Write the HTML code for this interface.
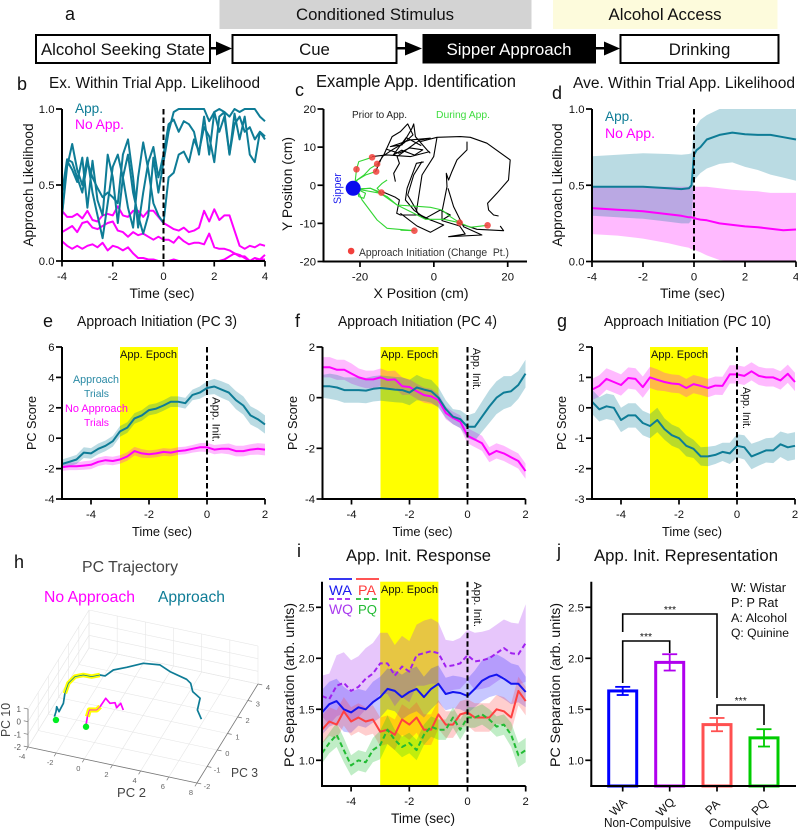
<!DOCTYPE html>
<html lang="en">
<head>
<meta charset="utf-8">
<title>Approach likelihood figure</title>
<style>
html,body{margin:0;padding:0;background:#fff;}
svg{display:block;font-family:"Liberation Sans",Arial,sans-serif;}
text{fill:#111;}
.letter{font-size:18px;}
</style>
</head>
<body>
<svg id="fig" xmlns="http://www.w3.org/2000/svg" width="798" height="830" viewBox="0 0 798 830">
<rect width="798" height="830" fill="#fff"/>

<g>
  <rect x="219.5" y="0" width="312" height="29" fill="#d3d3d3"/>
  <rect x="553" y="0" width="224.5" height="29" fill="#fdfbdc"/>
  <text x="375" y="20" text-anchor="middle" font-size="16.7" textLength="158" lengthAdjust="spacingAndGlyphs">Conditioned Stimulus</text>
  <text x="665" y="20" text-anchor="middle" font-size="16.7" textLength="113" lengthAdjust="spacingAndGlyphs">Alcohol Access</text>
  <rect x="36" y="35" width="174" height="28" fill="#fff" stroke="#000" stroke-width="2"/>
  <text x="123" y="55" text-anchor="middle" font-size="16.8" textLength="164" lengthAdjust="spacingAndGlyphs">Alcohol Seeking State</text>
  <rect x="232.5" y="35" width="164" height="28" fill="#fff" stroke="#000" stroke-width="2"/>
  <text x="314.5" y="55" text-anchor="middle" font-size="16.8">Cue</text>
  <rect x="422.5" y="34" width="173.5" height="29.5" fill="#000"/>
  <text x="509" y="55" text-anchor="middle" font-size="16.8" textLength="125" lengthAdjust="spacingAndGlyphs" style="fill:#fff">Sipper Approach</text>
  <rect x="620.5" y="35" width="158" height="28" fill="#fff" stroke="#000" stroke-width="2"/>
  <text x="699.5" y="55" text-anchor="middle" font-size="16.8">Drinking</text>
  <g fill="#000">
    <rect x="210" y="47" width="8" height="2.5"/><polygon points="216,41.5 232,48.5 216,55.5"/>
    <rect x="396" y="47" width="10" height="2.5"/><polygon points="405,41.5 422,48.5 405,55.5"/>
    <rect x="596" y="47" width="9" height="2.5"/><polygon points="604,41.5 620,48.5 604,55.5"/>
  </g>
</g>

<g>
  <text class="letter" x="65" y="20">a</text>
  <text class="letter" x="17" y="90">b</text>
  <text class="letter" x="295" y="96">c</text>
  <text class="letter" x="552" y="99">d</text>
  <text class="letter" x="43" y="327">e</text>
  <text class="letter" x="295" y="327">f</text>
  <text class="letter" x="557" y="327">g</text>
  <text class="letter" x="14" y="568">h</text>
  <text class="letter" x="297" y="557">i</text>
  <text class="letter" x="557" y="557">j</text>
</g>

<g id="plots"></g>

<g>
  <text x="49" y="88" font-size="15.25" textLength="211" lengthAdjust="spacingAndGlyphs">Ex. Within Trial App. Likelihood</text>
  <text x="316" y="87" font-size="17.2" textLength="200" lengthAdjust="spacingAndGlyphs">Example App. Identification</text>
  <text x="573" y="88" font-size="15.5" textLength="222" lengthAdjust="spacingAndGlyphs">Ave. Within Trial App. Likelihood</text>
  <text x="77" y="326" font-size="14.6" textLength="160" lengthAdjust="spacingAndGlyphs">Approach Initiation (PC 3)</text>
  <text x="338" y="326" font-size="14.6" textLength="159" lengthAdjust="spacingAndGlyphs">Approach Initiation (PC 4)</text>
  <text x="604" y="326" font-size="14.6" textLength="167" lengthAdjust="spacingAndGlyphs">Approach Initiation (PC 10)</text>
  <text x="82" y="572" font-size="15.7" textLength="96" lengthAdjust="spacingAndGlyphs" style="fill:#444">PC Trajectory</text>
  <text x="346" y="561" font-size="16.5" textLength="145" lengthAdjust="spacingAndGlyphs">App. Init. Response</text>
  <text x="594" y="561" font-size="16.6" textLength="184" lengthAdjust="spacingAndGlyphs">App. Init. Representation</text>
</g>

<g>
  <text font-size="13.6" transform="translate(33,185) rotate(-90)" text-anchor="middle" textLength="123" lengthAdjust="spacingAndGlyphs">Approach Likelihood</text>
  <text font-size="13.8" x="162" y="298" text-anchor="middle" textLength="65" lengthAdjust="spacingAndGlyphs">Time (sec)</text>
  <text font-size="13.8" transform="translate(292,184) rotate(-90)" text-anchor="middle" textLength="94" lengthAdjust="spacingAndGlyphs">Y Position (cm)</text>
  <text font-size="14" x="421" y="298" text-anchor="middle" textLength="95" lengthAdjust="spacingAndGlyphs">X Position (cm)</text>
  <text font-size="13.6" transform="translate(562,185) rotate(-90)" text-anchor="middle" textLength="123" lengthAdjust="spacingAndGlyphs">Approach Likelihood</text>
  <text font-size="13.8" x="692.5" y="298" text-anchor="middle" textLength="65" lengthAdjust="spacingAndGlyphs">Time (sec)</text>
  <text font-size="12.6" transform="translate(36,423) rotate(-90)" text-anchor="middle" textLength="54" lengthAdjust="spacingAndGlyphs">PC Score</text>
  <text font-size="12.7" x="162" y="536" text-anchor="middle" textLength="60" lengthAdjust="spacingAndGlyphs">Time (sec)</text>
  <text font-size="12.6" transform="translate(297,423) rotate(-90)" text-anchor="middle" textLength="54" lengthAdjust="spacingAndGlyphs">PC Score</text>
  <text font-size="12.7" x="422.5" y="536" text-anchor="middle" textLength="60" lengthAdjust="spacingAndGlyphs">Time (sec)</text>
  <text font-size="12.6" transform="translate(566,423) rotate(-90)" text-anchor="middle" textLength="54" lengthAdjust="spacingAndGlyphs">PC Score</text>
  <text font-size="12.7" x="692" y="536" text-anchor="middle" textLength="60" lengthAdjust="spacingAndGlyphs">Time (sec)</text>
  <text font-size="14.2" transform="translate(294,685) rotate(-90)" text-anchor="middle" textLength="164" lengthAdjust="spacingAndGlyphs">PC Separation (arb. units)</text>
  <text font-size="13.6" x="423" y="823" text-anchor="middle" textLength="64" lengthAdjust="spacingAndGlyphs">Time (sec)</text>
  <text font-size="14.2" transform="translate(560,685) rotate(-90)" text-anchor="middle" textLength="164" lengthAdjust="spacingAndGlyphs">PC Separation (arb. units)</text>
  <text font-size="13" transform="translate(10,720) rotate(-90)" text-anchor="middle" style="fill:#444" textLength="34" lengthAdjust="spacingAndGlyphs">PC 10</text>
  <text font-size="13" x="117" y="797" style="fill:#444" textLength="29" lengthAdjust="spacingAndGlyphs">PC 2</text>
  <text font-size="13" x="231" y="777" style="fill:#444" textLength="27" lengthAdjust="spacingAndGlyphs">PC 3</text>
</g>

<g id="notes">
  <text x="75" y="113" font-size="13.6" style="fill:#0e7c96" textLength="28" lengthAdjust="spacingAndGlyphs">App.</text>
  <text x="75" y="129" font-size="13.6" style="fill:#ff00ff" textLength="49" lengthAdjust="spacingAndGlyphs">No App.</text>
  <text x="605" y="121" font-size="13.6" style="fill:#0e7c96" textLength="28" lengthAdjust="spacingAndGlyphs">App.</text>
  <text x="605" y="138" font-size="13.6" style="fill:#ff00ff" textLength="50" lengthAdjust="spacingAndGlyphs">No App.</text>
  <text x="352" y="118" font-size="9.9" style="fill:#222" textLength="55" lengthAdjust="spacingAndGlyphs">Prior to App.</text>
  <text x="436" y="118" font-size="10.2" style="fill:#3fdc3f" textLength="54" lengthAdjust="spacingAndGlyphs">During App.</text>
  <text transform="translate(341,204) rotate(-90)" font-size="10.7" style="fill:#1a1aee" textLength="31" lengthAdjust="spacingAndGlyphs">Sipper</text>
  <text x="359" y="256" font-size="10.7" style="fill:#333" textLength="150" lengthAdjust="spacingAndGlyphs">Approach Initiation (Change&#160; Pt.)</text>
  <text x="73" y="383" font-size="10.8" style="fill:#2a8aa5" textLength="46" lengthAdjust="spacingAndGlyphs">Approach</text>
  <text x="84" y="397" font-size="10.4" style="fill:#2a8aa5" textLength="25" lengthAdjust="spacingAndGlyphs">Trials</text>
  <text x="65" y="412" font-size="10.8" style="fill:#ff00ff" textLength="63" lengthAdjust="spacingAndGlyphs">No Approach</text>
  <text x="84" y="426" font-size="10.4" style="fill:#ff00ff" textLength="25" lengthAdjust="spacingAndGlyphs">Trials</text>
  <text font-size="11" x="120" y="358" textLength="57" lengthAdjust="spacingAndGlyphs">App. Epoch</text>
  <text font-size="11" x="381" y="358" textLength="57" lengthAdjust="spacingAndGlyphs">App. Epoch</text>
  <text font-size="11" x="651" y="358" textLength="57" lengthAdjust="spacingAndGlyphs">App. Epoch</text>
  <text font-size="11" x="381" y="593" textLength="57" lengthAdjust="spacingAndGlyphs">App. Epoch</text>
  <text transform="translate(212.5,397) rotate(90)" font-size="11.2" textLength="45" lengthAdjust="spacingAndGlyphs">App. Init.</text>
  <text transform="translate(473,348) rotate(90)" font-size="10.8" textLength="42" lengthAdjust="spacingAndGlyphs">App. Init.</text>
  <text transform="translate(743,387) rotate(90)" font-size="10.8" textLength="42" lengthAdjust="spacingAndGlyphs">App. Init.</text>
  <text transform="translate(474,582) rotate(90)" font-size="11.2" textLength="45" lengthAdjust="spacingAndGlyphs">App. Init.</text>
  <text x="329" y="595" font-size="14" style="fill:#1a1aee" textLength="23" lengthAdjust="spacingAndGlyphs">WA</text>
  <text x="358" y="595" font-size="13.6" style="fill:#ff3c3c" textLength="18" lengthAdjust="spacingAndGlyphs">PA</text>
  <text x="329" y="614" font-size="14" style="fill:#a838ee" textLength="24" lengthAdjust="spacingAndGlyphs">WQ</text>
  <text x="358" y="614" font-size="13.2" style="fill:#22bb33" textLength="19" lengthAdjust="spacingAndGlyphs">PQ</text>
  <line x1="329" y1="579" x2="352" y2="579" stroke="#1a1aee" stroke-width="1.8"/>
  <line x1="356" y1="579" x2="379" y2="579" stroke="#ff3c3c" stroke-width="1.8"/>
  <line x1="329" y1="599" x2="352" y2="599" stroke="#a020f0" stroke-width="1.8" stroke-dasharray="5 3"/>
  <line x1="356" y1="599" x2="380" y2="599" stroke="#22bb33" stroke-width="1.8" stroke-dasharray="5 3"/>
  <text x="731" y="592" font-size="12.6" textLength="55" lengthAdjust="spacingAndGlyphs">W: Wistar</text>
  <text x="731" y="607" font-size="12.6" textLength="47" lengthAdjust="spacingAndGlyphs">P: P Rat</text>
  <text x="731" y="622" font-size="12.4" textLength="56" lengthAdjust="spacingAndGlyphs">A: Alcohol</text>
  <text x="731" y="637" font-size="12.2" textLength="58" lengthAdjust="spacingAndGlyphs">Q: Quinine</text>
  <text x="604" y="827" font-size="12.6" textLength="87" lengthAdjust="spacingAndGlyphs">Non-Compulsive</text>
  <text x="709" y="827" font-size="11.9" textLength="62" lengthAdjust="spacingAndGlyphs">Compulsive</text>
  <text x="44" y="602" font-size="15.6" style="fill:#ff00ff" textLength="91" lengthAdjust="spacingAndGlyphs">No Approach</text>
  <text x="158" y="602" font-size="15.6" style="fill:#0e7c96" textLength="67" lengthAdjust="spacingAndGlyphs">Approach</text>
</g>

<script>
// ---------- shared tick labels ----------
const ticksLikelihood = [0, 0.5, 1];
const ticksTimeB = [-4, -2, 0, 2, 4];
const ticksTimeE = [-4, -2, 0, 2];
const ticksPosY = [-20, -10, 0, 10, 20];
const ticksPosX = [-20, 0, 20];
const ticksPcE = [-4, -2, 0, 2, 4, 6];
const ticksPcF = [-4, -2, 0, 2];
const ticksPcG = [-3, -2, -1, 0, 1, 2];
const ticksSep = [1, 1.5, 2, 2.5];

// ---------- panel b ----------
const timesB = [-4,-3.8,-3.6,-3.4,-3.2,-3,-2.8,-2.6,-2.4,-2.2,-2,-1.8,-1.6,-1.4,-1.2,-1,-0.8,-0.6,-0.4,-0.2,0,0.2,0.4,0.6,0.8,1,1.2,1.4,1.6,1.8,2,2.2,2.4,2.6,2.8,3,3.2,3.4,3.6,3.8,4];
const appTrial1 = [.3,.62,.77,.6,.5,.68,.45,.3,.15,.38,.62,.7,.55,.35,.22,.55,.78,.6,.38,.3,.25,.55,.58,.7,.72,.65,.8,.72,.88,.82,.65,.95,.98,.7,.9,.95,.85,.88,.8,.85,.82];
const appTrial2 = [.45,.67,.65,.55,.45,.65,.55,.48,.42,.45,.42,.38,.7,.8,.55,.22,.45,.65,.75,.55,.7,.9,.93,.85,.92,.9,.85,.7,.95,.7,.98,.85,.95,.7,.97,.8,.95,.7,.65,.85,.8];
const appTrial3 = [.3,.66,.6,.52,.68,.35,.66,.4,.3,.7,.55,.25,.55,.7,.45,.3,.18,.3,.68,.45,.65,.85,.98,1,1,1,1,1,1,.92,.98,1,.98,.95,1,.98,1,1,1,.95,.92];
const noAppTrial1 = [.33,.29,.29,.31,.28,.33,.27,.26,.3,.31,.3,.36,.3,.29,.33,.33,.29,.33,.33,.29,.25,.23,.21,.2,.22,.19,.2,.22,.33,.26,.34,.27,.3,.3,.2,.1,.08,.1,.09,.11,.1];
const noAppTrial2 = [.19,.21,.23,.19,.25,.26,.22,.21,.23,.25,.26,.2,.19,.16,.19,.17,.18,.16,.14,.16,.14,.14,.12,.16,.13,.11,.12,.12,.11,.18,.09,.08,.08,.07,.05,.04,.02,0,.02,.01,.01];
const noAppTrial3 = [.13,.1,.08,.1,.08,.1,.11,.09,.12,.07,.1,.09,.07,.09,.05,.02,.02,.01,.01,0,0,0,.01,0,0,0,0,0,0,0,0,0,.01,.03,.05,.03,.03,0,0,.01,.04];

// ---------- panel c (cm) ----------
const priorPaths = [
 [[-3.65,11.45],[.86,12.59],[7.17,12.77],[9.87,12.59],[14.37,11.02],[20.68,6.64],[20.23,1.39],[17.08,-2.11],[14.55,-4.74],[14.82,-6.49],[16.17,-7.8],[17.53,-8.06]],
 [[.86,12.59],[-.04,7.52],[-3.2,2.7],[-4.1,-2.99],[-4.73,-6.92],[-3.2,-8.24],[2.67,-10.42],[-.94,-12.35],[-4.55,-10.69],[-9.05,-7.36]],
 [[-2.74,6.12],[-4.73,5.77],[-7.25,-.8],[-7.7,-3.86],[-5.27,-6.66],[-2.3,-8.67],[1.76,-6.49],[4.46,-7.8],[2.2,-9.11]],
 [[8.97,11.45],[8.97,9.27],[6.27,6.64],[4.9,3.58],[4,1.39],[3.38,3.14],[3.56,-.36],[2.2,-6.92],[2.2,-9.28],[6.99,-10.69],[8.5,-12.8],[4,-13.5],[13,-13.05],[8.07,-10.86],[5.36,-5.61],[3.83,-.8]],
 [[17.98,-10.69],[18.88,-11.91],[11.67,-11.56],[6.27,-9.81]],
 [[-16.72,7.52],[-12.66,7.95],[-6.36,7.52],[-1.13,8.83]],
 [[-15.36,5.33],[-13.56,7.95],[-11.31,12.77],[-9.06,14.08],[-7.08,16.09],[-5.64,13.2],[-8.16,11.02],[-11.31,9.27],[-14,7.52],[-15.8,3.58]],
 [[-10.41,.95],[-10.86,3.14],[-9.33,5.77],[-9.96,7.52],[-5,11.02],[-3.65,11.89],[-.95,12.33],[-6.36,11.89],[-11.76,10.14],[-8.61,10.58],[-5.91,14.95],[-5.45,16.09],[-5,12.77],[-1.85,9.27],[-.95,8.39]],
 [[-3.2,6.2],[-5.45,2.7],[-7.08,-2.55],[-5,-6.05],[-4.1,-7.8]],
 [[-14,-1.67],[-10.41,-3.16],[-9.33,-3.86],[-10.05,-7.36],[-9.06,-7.8],[-3.65,-7.8],[-.5,-9.28]],
 [[-13,9.5],[-9.5,8.4],[-6.5,9.8],[-3,9.3],[-5.2,7.9],[-8.7,9.2],[-11,7.9],[-7.5,12.5],[-3.4,10.4]]
];
const duringPaths = [
 [[-21.4,-.5],[-20.77,1.39],[-18.52,2.7],[-15.8,3.58]],
 [[-21.4,.08],[-20.95,4.19],[-20.32,6.2],[-16.72,7.34]],
 [[-21.4,.95],[-18.9,2.7],[-17.17,4.45],[-15.18,5.59]],
 [[-20.8,-.8],[-20.32,-2.99],[-18.97,-3.42],[-18.52,-2.11],[-20.8,-1],[-17.17,-.8],[-14.2,-1.93]],
 [[-14.2,-1.93],[-15.36,-.8],[-14,.52],[-12.66,1.39]],
 [[-20.8,-1],[-19.42,-3.86],[-15.36,-9.11],[-12.66,-11.3],[-5.27,-11.91],[-9.05,-11.8]],
 [[-20.8,-1],[-17.17,-.8],[-12.66,-2.99],[-9.96,-5.17],[-3.65,-5.61],[-.94,-5.79],[2.2,-6.49],[4.46,-8.24],[6.99,-9.81]],
 [[-20.8,-1],[-14.46,-2.11],[-9.96,-5.17],[-5.45,-7.36],[-2.3,-8.94],[2.67,-8.94],[6.99,-9.81],[9.87,-11.03],[14.55,-10.51]]
];
const changePoints = [[-16.72,7.34],[-15.36,5.59],[-15.63,3.58],[-20.95,4.19],[-14.2,-1.93],[-5.27,-11.91],[6.99,-9.81],[14.55,-10.51]];
const sipperPos = [-21.85,-.8];
const legendDotPos = [-22.4,-17.25];

// ---------- panel d ----------
const timesD = [-4,-3,-2,-1,-.5,-.2,-.1,0,.1,.25,.5,1,1.5,2,2.5,3,3.5,4];
const appMeanD = [.49,.49,.49,.48,.475,.48,.5,.7,.73,.75,.8,.83,.845,.835,.83,.83,.815,.8];
const appUpperD = [.69,.7,.71,.705,.7,.705,.71,.87,.89,.93,.96,1,1,1,1,1,1,1];
const appLowerD = [.3,.29,.28,.26,.25,.25,.27,.53,.55,.58,.61,.64,.65,.62,.6,.57,.55,.53];
const noMeanD = [.35,.34,.33,.31,.3,.29,.29,.285,.28,.275,.27,.25,.24,.23,.225,.215,.205,.21];
const noUpperD = [.49,.49,.49,.49,.49,.49,.49,.49,.49,.49,.49,.48,.47,.465,.46,.45,.45,.45];
const noLowerD = [.18,.17,.15,.12,.1,.09,.08,.08,.07,.06,.04,.01,0,0,0,0,0,0];

// ---------- panels e, f, g, i share this time base ----------
const timesPc = [-5,-4.75,-4.5,-4.25,-4,-3.75,-3.5,-3.25,-3,-2.75,-2.5,-2.25,-2,-1.75,-1.5,-1.25,-1,-.75,-.5,-.25,0,.25,.5,.75,1,1.25,1.5,1.75,2];
const appE = [-1.7,-1.55,-1.4,-.95,-1,-.7,-.5,-.2,.45,.7,1.3,1.5,1.85,1.95,2.15,2.4,2.4,2.3,2.85,3,3.3,3.4,3.2,3,2.5,2.15,1.5,1.25,.9];
const semAppE = [.3,.3,.3,.35,.35,.35,.35,.35,.35,.35,.35,.35,.35,.35,.35,.35,.35,.35,.35,.4,.45,.5,.55,.55,.6,.6,.6,.6,.6];
const noE = [-1.9,-1.85,-1.85,-1.8,-1.75,-1.55,-1.45,-1.5,-1.4,-1.2,-.85,-1,-1.05,-1,-.9,-.95,-.85,-.8,-.7,-.6,-.6,-.75,-.7,-.7,-.85,-.85,-.75,-.7,-.75];
const semNoE = [.25,.25,.25,.28,.28,.28,.28,.28,.28,.28,.28,.28,.25,.25,.25,.25,.25,.25,.25,.28,.3,.3,.3,.35,.35,.35,.35,.38,.38];
const appF = [.45,.45,.4,.3,.3,.3,.28,.35,.38,.35,.32,.3,.2,.4,.32,.25,0,-.45,-.75,-.85,-1.15,-1.15,-.75,-.35,0,.2,.25,.5,.95];
const semAppF = [.45,.5,.5,.5,.5,.5,.5,.5,.5,.5,.5,.5,.5,.5,.45,.45,.4,.35,.3,.35,.45,.55,.6,.65,.65,.65,.6,.55,.55];
const noF = [1.2,1.2,1.1,1.1,.95,.8,.72,.72,.8,.7,.72,.45,.42,.25,.1,.05,-.1,-.6,-.8,-.95,-1.5,-1.65,-1.8,-2.25,-2.1,-2.2,-2.35,-2.5,-2.9];
const semNoF = [.4,.4,.4,.4,.4,.35,.35,.35,.35,.35,.35,.35,.3,.3,.3,.3,.25,.25,.25,.25,.3,.3,.3,.3,.3,.3,.3,.3,.3];
const appG = [.2,-.05,.05,0,-.4,-.25,-.25,-.5,-.6,-.4,-.7,-.9,-1,-1.25,-1.35,-1.6,-1.6,-1.55,-1.45,-1.5,-1.25,-1.3,-1.6,-1.5,-1.4,-1.4,-1.2,-1.3,-1.25];
const semAppG = [.4,.4,.42,.42,.4,.4,.4,.4,.4,.4,.35,.35,.35,.35,.3,.3,.32,.3,.3,.35,.38,.4,.42,.4,.4,.42,.42,.45,.45];
const noG = [.6,.72,.95,.85,.75,.98,.95,.68,1,.92,.85,.8,.78,.65,.78,.72,.65,.73,.72,1.1,1.1,1.05,1.2,1.05,1,1,.9,1.12,.85];
const semNoG = [.35,.35,.35,.35,.35,.35,.35,.35,.35,.35,.3,.3,.3,.3,.3,.3,.3,.3,.3,.3,.3,.3,.3,.3,.3,.3,.3,.3,.3];
const wa = [1.47,1.55,1.58,1.5,1.47,1.52,1.5,1.57,1.62,1.7,1.68,1.62,1.67,1.7,1.62,1.7,1.75,1.65,1.67,1.66,1.63,1.7,1.78,1.82,1.84,1.8,1.75,1.75,1.67];
const semWa = [.22,.22,.22,.22,.2,.18,.18,.2,.2,.2,.2,.22,.22,.22,.2,.2,.18,.16,.16,.16,.17,.18,.2,.2,.2,.2,.2,.18,.15];
const wq = [1.63,1.6,1.73,1.76,1.68,1.72,1.8,1.85,1.95,1.95,1.83,1.92,1.87,2.03,2.05,2.07,2.05,1.92,1.93,1.95,2.03,1.97,1.98,2,2.05,2.1,2.05,2.04,2.15];
const semWq = [.2,.25,.3,.3,.3,.3,.3,.3,.3,.3,.3,.3,.3,.3,.32,.32,.3,.26,.24,.25,.25,.28,.28,.28,.28,.28,.3,.3,.38];
const pa = [1.3,1.38,1.35,1.48,1.38,1.42,1.38,1.4,1.28,1.3,1.25,1.4,1.35,1.42,1.3,1.3,1.45,1.35,1.35,1.45,1.47,1.42,1.42,1.42,1.5,1.48,1.42,1.68,1.58];
const semPa = [.14,.14,.14,.14,.14,.14,.14,.14,.14,.14,.15,.15,.15,.15,.15,.15,.14,.13,.13,.13,.13,.14,.14,.14,.14,.14,.14,.14,.14];
const pq = [1.07,1.17,1.25,1.1,.95,1,.98,1.1,1.15,1.3,1.2,1.13,1.17,1.1,1.25,1.33,1.3,1.3,1.42,1.3,1.42,1.42,1.45,1.4,1.33,1.35,1.25,1.05,1.1];
const semPq = [.1,.1,.12,.12,.1,.1,.1,.12,.14,.14,.1,.1,.1,.1,.1,.1,.1,.1,.1,.1,.1,.1,.1,.1,.1,.1,.12,.12,.12];

// ---------- panel h ----------
const approachPc2 = [-2.54,-2.63,-2.78,-2.44,-2.49,-2.78,-2.95,-2.79,-2.33,-1.75,-1.29,-.93,-.64,.09,.98,2.09,2.98,4.32,4.73,5.18,5.9,6.18,6.79];
const approachPc3 = [-1.43,-1.14,-.87,-1.11,-.61,-.06,.52,.95,1.13,1.14,1.32,1.33,1.74,2.04,2.44,2.55,2.3,2.08,1.91,1.49,1.22,.56,.11];
const noApproachPc2 = [-.23,-.47,-.6,-.14,-.06,-.03,.44,.73,1.03,1.11,1.53];
const noApproachPc3 = [-1.52,-1.05,-.67,-.59,-.37,.14,-.08,.01,-.24,.04,-.29];
const startPc2 = [-2.31,-.16];
const startPc3 = [-1.59,-1.61];
const pc2Ticks = [-4,-2,0,2,4,6,8];
const pc3Ticks = [-2,-1,0,1,2,3,4];
const pc10Ticks = [-2,-1,0,1];

// ---------- panel j ----------
const barNames = ['WA','WQ','PA','PQ'];
const barValues = [1.68,1.96,1.35,1.22];
const barErrors = [.04,.08,.065,.085];

// ---------- colours ----------
const TEAL = '#0e7c96', MAG = '#ff00ff';
const TEALB = 'rgba(0,122,150,.27)', MAGB = 'rgba(255,0,255,.27)';

const NS = 'http://www.w3.org/2000/svg';
const root = document.getElementById('plots');
function mk(parent, tag, attrs, name) {
  const e = document.createElementNS(NS, tag);
  for (const k in attrs) e.setAttribute(k, attrs[k]);
  
  
  parent.appendChild(e);
  return e;
}
function label(parent, x, y, str, size, anchor, name, fill) {
  const t = mk(parent, 'text', {x: x, y: y, 'font-size': size, 'text-anchor': anchor}, name);
  if (fill) t.style.fill = fill;
  t.textContent = str;
  return t;
}
function scale(d0, d1, r0, r1) { return v => r0 + (v - d0) * (r1 - r0) / (d1 - d0); }
function fmt(v, fixed) { return fixed ? v.toFixed(1) : String(v); }

function axes(g, f, xs, ys, xTicks, yTicks, fixed) {
  mk(g, 'line', {x1: f.l, x2: f.l, y1: f.t, y2: f.b + 1, stroke: '#000', 'stroke-width': 2}, 'y-axis-line');
  mk(g, 'line', {x1: f.l - 1, x2: f.r, y1: f.b, y2: f.b, stroke: '#000', 'stroke-width': 2}, 'x-axis-line');
  yTicks.forEach(v => {
    mk(g, 'line', {x1: f.l - 6, x2: f.l, y1: ys(v), y2: ys(v), stroke: '#000', 'stroke-width': 1.7}, 'y-tick');
    label(g, f.l - 7.5, ys(v) + 4, fmt(v, fixed), 11.3, 'end', 'y-tick-label');
  });
  xTicks.forEach(v => {
    mk(g, 'line', {x1: xs(v), x2: xs(v), y1: f.b, y2: f.b + 5.5, stroke: '#000', 'stroke-width': 1.7}, 'x-tick');
    label(g, xs(v), f.b + 19, String(v), 11.3, 'middle', 'x-tick-label');
  });
}
function linePath(xv, yv, xs, ys) {
  return xv.map((x, i) => (i ? 'L' : 'M') + xs(x).toFixed(1) + ' ' + ys(yv[i]).toFixed(1)).join('');
}
function bandPathUL(xv, up, lo, xs, ys) {
  const a = xv.map((x, i) => (i ? 'L' : 'M') + xs(x).toFixed(1) + ' ' + ys(up[i]).toFixed(1)).join('');
  const b = xv.map((x, i) => [x, lo[i]]).reverse().map(p => 'L' + xs(p[0]).toFixed(1) + ' ' + ys(p[1]).toFixed(1)).join('');
  return a + b + 'Z';
}
function meanBand(g, xv, mean, sem, xs, ys, color, name, yMin) {
  const up = mean.map((m, i) => m + sem[i]);
  const lo = mean.map((m, i) => Math.max(m - sem[i], yMin));
  mk(g, 'path', {d: bandPathUL(xv, up, lo, xs, ys), fill: color, stroke: 'none'}, name);
}
function series(g, xv, yv, xs, ys, color, name, width, dash) {
  const a = {d: linePath(xv, yv, xs, ys), fill: 'none', stroke: color, 'stroke-width': width || 2, 'stroke-linejoin': 'round'};
  if (dash) a['stroke-dasharray'] = dash;
  mk(g, 'path', a, name);
}
function zeroLine(g, f, xs) {
  mk(g, 'line', {x1: xs(0), x2: xs(0), y1: f.t, y2: f.b, stroke: '#000', 'stroke-width': 2, 'stroke-dasharray': '5.5 3'}, 'zero-time-line');
}
function epochRect(g, f, xs) {
  mk(g, 'rect', {x: xs(-3), y: f.t, width: xs(-1) - xs(-3), height: f.b - f.t, fill: '#ffff00'}, 'approach-epoch');
}

// ---- panel b
(function () {
  const g = mk(root, 'g', {}, 'panel-b-trials');
  const f = {l: 62, r: 265, t: 109, b: 261};
  const xs = scale(-4, 4, f.l, f.r), ys = scale(0, 1, f.b, f.t);
  [noAppTrial1, noAppTrial2, noAppTrial3].forEach(s => series(g, timesB, s, xs, ys, MAG, 'no-approach-trial', 2));
  [appTrial1, appTrial2, appTrial3].forEach(s => series(g, timesB, s, xs, ys, TEAL, 'approach-trial', 2));
  zeroLine(g, f, xs);
  axes(g, f, xs, ys, ticksTimeB, ticksLikelihood, true);
})();

// ---- panel c
(function () {
  const g = mk(root, 'g', {}, 'panel-c-positions');
  const f = {l: 323.5, r: 527, t: 109, b: 261.5};
  const xs = scale(-20, 20, 360, 507.7), ys = scale(-20, 20, 261.5, 109);
  const path = (pts, c, w, n) => series(g, pts.map(p => p[0]), pts.map(p => p[1]), xs, ys, c, n, w);
  priorPaths.forEach(p => path(p, '#000', 1.1, 'prior-path'));
  duringPaths.forEach(p => path(p, '#33d633', 1.1, 'during-path'));
  mk(g, 'circle', {cx: xs(sipperPos[0]), cy: ys(sipperPos[1]), r: 7.5, fill: '#0a0aee'}, 'sipper-marker');
  changePoints.forEach(p => mk(g, 'circle', {cx: xs(p[0]), cy: ys(p[1]), r: 3.3, fill: '#f2403c', 'fill-opacity': .85}, 'change-point'));
  mk(g, 'circle', {cx: xs(legendDotPos[0]), cy: ys(legendDotPos[1]), r: 3.3, fill: '#f2403c'}, 'legend-change-point-dot');
  axes(g, f, xs, ys, ticksPosX, ticksPosY, false);
})();

// ---- panel d
(function () {
  const g = mk(root, 'g', {}, 'panel-d-average');
  const f = {l: 592, r: 796, t: 109, b: 261.5};
  const xs = scale(-4, 4, f.l, f.r), ys = scale(0, 1, f.b, f.t);
  mk(g, 'path', {d: bandPathUL(timesD, noUpperD, noLowerD, xs, ys), fill: MAGB}, 'no-approach-band');
  mk(g, 'path', {d: bandPathUL(timesD, appUpperD, appLowerD, xs, ys), fill: TEALB}, 'approach-band');
  series(g, timesD, noMeanD, xs, ys, MAG, 'no-approach-mean', 2);
  series(g, timesD, appMeanD, xs, ys, TEAL, 'approach-mean', 2);
  zeroLine(g, f, xs);
  axes(g, f, xs, ys, ticksTimeB, ticksLikelihood, true);
})();

// ---- panels e, f, g
function pcPanel(name, l, yMin, yMax, yTicks, a, sa, n, sn) {
  const g = mk(root, 'g', {}, name);
  const f = {l: l, r: l + 203, t: 347, b: 499};
  const xs = scale(-5, 2, f.l, f.r), ys = scale(yMin, yMax, f.b, f.t);
  epochRect(g, f, xs);
  meanBand(g, timesPc, n, sn, xs, ys, MAGB, 'no-approach-band', yMin);
  meanBand(g, timesPc, a, sa, xs, ys, TEALB, 'approach-band', yMin);
  series(g, timesPc, n, xs, ys, MAG, 'no-approach-mean', 2);
  series(g, timesPc, a, xs, ys, TEAL, 'approach-mean', 2);
  zeroLine(g, f, xs);
  axes(g, f, xs, ys, ticksTimeE, yTicks, false);
}
pcPanel('panel-e-pc3', 62, -4, 6, ticksPcE, appE, semAppE, noE, semNoE);
pcPanel('panel-f-pc4', 322.5, -4, 2, ticksPcF, appF, semAppF, noF, semNoF);
pcPanel('panel-g-pc10', 592, -3, 2, ticksPcG, appG, semAppG, noG, semNoG);

// ---- panel h
(function () {
  const g = mk(root, 'g', {}, 'panel-h-trajectory');
  const px = (a, b) => 28 + 14.08 * (a + 4) + 10.17 * (b + 2);
  const py = (a, b, c) => 747 + 3 * (a + 4) - 16.5 * (b + 2) - 12.67 * (c + 2);
  const seg = (p, q, col, n, w) => mk(g, 'line', {x1: px(p[0], p[1]), y1: py(p[0], p[1], p[2]), x2: px(q[0], q[1]), y2: py(q[0], q[1], q[2]), stroke: col, 'stroke-width': w || .6}, n);
  const GRID = '#e6e6e6', AX = '#777';
  pc2Ticks.forEach(a => {
    seg([a, -2, -2], [a, 4, -2], GRID, 'floor-grid');
    seg([a, 4, -2], [a, 4, 1], GRID, 'back-wall-grid');
  });
  pc3Ticks.forEach(b => {
    seg([-4, b, -2], [8, b, -2], GRID, 'floor-grid');
    seg([-4, b, -2], [-4, b, 1], GRID, 'side-wall-grid');
  });
  pc10Ticks.forEach(c => {
    seg([-4, -2, c], [-4, 4, c], GRID, 'side-wall-grid');
    seg([-4, 4, c], [8, 4, c], GRID, 'back-wall-grid');
  });
  seg([-4, -2, -2], [8, -2, -2], AX, 'pc2-axis', .8);
  seg([8, -2, -2], [8, 4, -2], AX, 'pc3-axis', .8);
  seg([-4, -2, -2], [-4, -2, 1], AX, 'pc10-axis', .8);
  pc2Ticks.forEach(a => {
    seg([a, -2, -2], [a, -2.2, -2], AX, 'pc2-tick', .7);
    label(g, px(a, -2) - 6, py(a, -2, -2) + 12, String(a), 7.5, 'middle', 'pc2-tick-label', '#666');
  });
  pc3Ticks.forEach(b => {
    seg([8, b, -2], [8.3, b, -2], AX, 'pc3-tick', .7);
    label(g, px(8, b) + 10, py(8, b, -2) + 6, String(b), 7.5, 'middle', 'pc3-tick-label', '#666');
  });
  pc10Ticks.forEach(c => {
    seg([-4, -2, c], [-4.3, -2, c], AX, 'pc10-tick', .7);
    label(g, px(-4, -2) - 7, py(-4, -2, c) + 3, String(c), 8, 'end', 'pc10-tick-label', '#555');
  });
  const tr = (as, bs, col, n, w, from, to) => {
    const d = as.slice(from, to).map((a, i) => (i ? 'L' : 'M') + px(a, bs[i + from]).toFixed(1) + ' ' + py(a, bs[i + from], 0).toFixed(1)).join('');
    mk(g, 'path', {d: d, fill: 'none', stroke: col, 'stroke-width': w, 'stroke-linejoin': 'round'}, n);
  };
  tr(approachPc2, approachPc3, TEAL, 'approach-trajectory', 1.7, 0, approachPc2.length);
  tr(noApproachPc2, noApproachPc3, MAG, 'no-approach-trajectory', 1.7, 0, noApproachPc2.length);
  tr(approachPc2, approachPc3, '#ffff00', 'approach-epoch-segment', 4.5, 5, 11);
  tr(approachPc2, approachPc3, TEAL, 'approach-epoch-core', .8, 5, 11);
  tr(noApproachPc2, noApproachPc3, '#ffff00', 'no-approach-epoch-segment', 5, 1, 5);
  tr(noApproachPc2, noApproachPc3, MAG, 'no-approach-epoch-core', .8, 1, 5);
  startPc2.forEach((a, i) => mk(g, 'circle', {cx: px(a, startPc3[i]), cy: py(a, startPc3[i], 0), r: 3.2, fill: '#00ee22'}, 'trajectory-start'));
})();

// ---- panel i
(function () {
  const g = mk(root, 'g', {}, 'panel-i-separation');
  const f = {l: 322, r: 525.7, t: 581.7, b: 786};
  const xs = scale(-5, 2, f.l, f.r), ys = scale(1, 2.5, 760.3, 607.3);
  epochRect(g, f, xs);
  meanBand(g, timesPc, wq, semWq, xs, ys, 'rgba(170,50,240,.28)', 'wq-band', .75);
  meanBand(g, timesPc, wa, semWa, xs, ys, 'rgba(30,30,255,.25)', 'wa-band', .75);
  meanBand(g, timesPc, pa, semPa, xs, ys, 'rgba(255,60,60,.25)', 'pa-band', .75);
  meanBand(g, timesPc, pq, semPq, xs, ys, 'rgba(30,190,50,.28)', 'pq-band', .75);
  series(g, timesPc, wq, xs, ys, '#a020f0', 'wq-mean', 2, '5 3');
  series(g, timesPc, wa, xs, ys, '#1414f0', 'wa-mean', 2);
  series(g, timesPc, pa, xs, ys, '#ff4040', 'pa-mean', 2);
  series(g, timesPc, pq, xs, ys, '#22bb33', 'pq-mean', 2, '5 3');
  zeroLine(g, f, xs);
  axes(g, f, xs, ys, ticksTimeE, ticksSep, true);
})();

// ---- panel j
(function () {
  const g = mk(root, 'g', {}, 'panel-j-bars');
  const ys = scale(1, 2.5, 760.3, 607.3);
  const base = 786, left = 591.3, right = 796;
  const centers = [622.7, 669.7, 717, 764];
  const cols = ['#0000ff', '#b000ee', '#ff5050', '#00cc00'];
  barNames.forEach((n, i) => {
    const c = centers[i], v = barValues[i], e = barErrors[i];
    const b = mk(g, 'rect', {x: c - 14, y: ys(v), width: 28, height: base - ys(v), fill: '#fff', stroke: cols[i], 'stroke-width': 3}, 'bar');
    
    mk(g, 'line', {x1: c, x2: c, y1: ys(v - e), y2: ys(v + e), stroke: cols[i], 'stroke-width': 1.8}, 'error-bar');
    mk(g, 'line', {x1: c - 7.5, x2: c + 7.5, y1: ys(v + e), y2: ys(v + e), stroke: cols[i], 'stroke-width': 1.8}, 'error-cap-top');
    mk(g, 'line', {x1: c - 6, x2: c + 6, y1: ys(v - e), y2: ys(v - e), stroke: cols[i], 'stroke-width': 1.8}, 'error-cap-bottom');
    mk(g, 'line', {x1: c, x2: c, y1: base, y2: base + 5.5, stroke: '#000', 'stroke-width': 1.7}, 'x-tick');
    const t = mk(g, 'text', {transform: 'translate(' + (c - 1.5) + ',' + (base + 24) + ') rotate(-45)', 'font-size': 12, 'text-anchor': 'middle'}, 'x-tick-label');
    t.textContent = n;
  });
  mk(g, 'line', {x1: left, x2: left, y1: 581.7, y2: base + 1, stroke: '#000', 'stroke-width': 2}, 'y-axis-line');
  mk(g, 'line', {x1: left - 1, x2: right, y1: base, y2: base, stroke: '#000', 'stroke-width': 2}, 'x-axis-line');
  ticksSep.forEach(v => {
    mk(g, 'line', {x1: left - 6, x2: left, y1: ys(v), y2: ys(v), stroke: '#000', 'stroke-width': 1.7}, 'y-tick');
    label(g, left - 7.5, ys(v) + 4, v.toFixed(1), 11.3, 'end', 'y-tick-label');
  });
  const br = (a, ya, ytop, bx, yb, sx, sy, n) => {
    mk(g, 'path', {d: 'M' + a + ' ' + ya + 'V' + ytop + 'H' + bx + 'V' + yb, fill: 'none', stroke: '#000', 'stroke-width': 1.6}, n);
    label(g, sx, sy, '***', 10.5, 'middle', n + '-stars');
  };
  br(centers[0], 632, 614, centers[2], 698, 670, 613, 'bracket-wa-pa');
  br(centers[0], 683, 641, centers[1], 653, 646, 640, 'bracket-wa-wq');
  br(centers[2], 715, 705, centers[3], 725, 740.7, 704, 'bracket-pa-pq');
})();
</script>
</svg>
</body>
</html>
